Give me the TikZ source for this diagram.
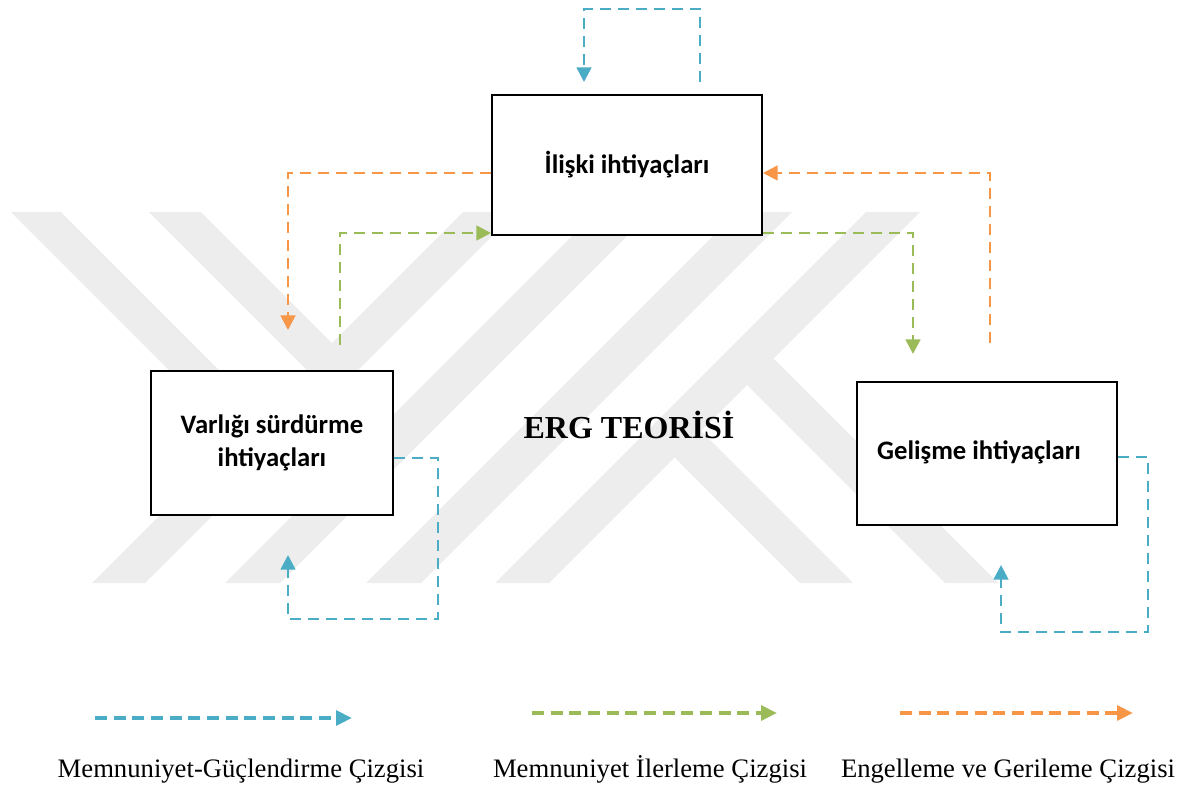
\documentclass[tikz,border=0pt]{standalone}
\usepackage{fontspec}
\setmainfont{Liberation Serif}
\newfontfamily\calibri{Carlito}
\usetikzlibrary{arrows.meta}
\definecolor{memblue}{HTML}{4BACC6}
\definecolor{ilgreen}{HTML}{9BBB59}
\definecolor{engorange}{HTML}{F79646}
\definecolor{wmgray}{HTML}{EDEDED}
\begin{document}
\begin{tikzpicture}[x=0.75pt,y=-0.75pt,
    kutu/.style={draw,line width=1.5pt,fill=white,inner sep=0pt,align=center,
      font=\calibri\bfseries\fontsize{20}{25}\selectfont},
    baglanti/.style={line width=2pt,dash pattern=on 8.5pt off 5pt,-{Triangle[length=11pt,width=11pt]}},
    memn/.style={baglanti,memblue},
    ilerle/.style={baglanti,ilgreen},
    engel/.style={baglanti,engorange},
    lejant/.style={line width=3pt,dash pattern=on 9pt off 5pt,-{Triangle[length=12pt,width=11pt]}},
    yazi/.style={font=\fontsize{20}{24}\selectfont,anchor=base}]
  \useasboundingbox (0,0) rectangle (1184,785);
  % watermark
  \fill[wmgray] (92,583) -- (145,583) -- (516,212) -- (463,212) -- cycle;
  \fill[wmgray] (225,583) -- (280,583) -- (651,212) -- (596,212) -- cycle;
  \fill[wmgray] (366,583) -- (421,583) -- (792,212) -- (737,212) -- cycle;
  \fill[wmgray] (495,583) -- (549,583) -- (920,212) -- (866,212) -- cycle;
  \fill[wmgray] (11,212) -- (61,212) -- (262,413) -- (237,438) -- cycle;
  \fill[wmgray] (149,212) -- (201,212) -- (332,343) -- (306,369) -- cycle;
  \fill[wmgray] (747,385) -- (773.5,358.5) -- (998,583) -- (945,583) -- cycle;
  \fill[wmgray] (674.5,457.5) -- (701,431) -- (853,583) -- (800,583) -- cycle;

  \node[kutu,minimum width=202.5pt,minimum height=105pt] (iliski) at (627,165) {İlişki ihtiyaçları};
  \node[kutu,minimum width=181.5pt,minimum height=108pt] (varlik) at (272,443) {Varlığı sürdürme\\ihtiyaçları};
  \node[kutu,minimum width=195pt,minimum height=107.25pt] (gelisme) at (987,453.5) {\raisebox{5pt}{Gelişme ihtiyaçları}\hspace*{12pt}};
  \node[font=\bfseries\fontsize{24}{28}\selectfont,anchor=base] (erg) at (629,438) {ERG TEORİSİ};

  \coordinate (ustbas) at (700,82);
  \coordinate (ustson) at (584,82);
  \coordinate (varlikust) at (288,330);
  \coordinate (varlikyesil) at (340,345);
  \coordinate (gelismeust) at (913,354);
  \coordinate (gelismeturuncu) at (990,343);
  \coordinate (varlikalt) at (288,555);
  \coordinate (gelismealt) at (1001,565);

  \draw[memn] (ustbas) -- ++(0,-73) -| (ustson);
  \draw[engel] ([yshift=-6pt]iliski.west) -| (varlikust);
  \draw[ilerle] (varlikyesil) |- ([yshift=2.25pt]iliski.south west);
  \draw[ilerle] ([yshift=2.25pt]iliski.south east) -| (gelismeust);
  \draw[engel] (gelismeturuncu) |- ([yshift=-6pt]iliski.east);
  \draw[memn] ([yshift=-11.25pt]varlik.east) -| (438,619) -| (varlikalt);
  \draw[memn] ([yshift=-2.6pt]gelisme.east) -| (1148,632) -| (gelismealt);

  \coordinate (l1a) at (95,718);
  \coordinate (l1b) at (352,718);
  \coordinate (l2a) at (532,713);
  \coordinate (l2b) at (777,713);
  \coordinate (l3a) at (900,713);
  \coordinate (l3b) at (1133,713);
  \draw[lejant,memblue] (l1a) -- (l1b);
  \draw[lejant,ilgreen] (l2a) -- (l2b);
  \draw[lejant,engorange] (l3a) -- (l3b);
  \node[yazi] (l1) at (241,777) {Memnuniyet-Güçlendirme Çizgisi};
  \node[yazi] (l2) at (650,777) {Memnuniyet İlerleme Çizgisi};
  \node[yazi] (l3) at (1008,777) {Engelleme ve Gerileme Çizgisi};
\end{tikzpicture}
\end{document}
